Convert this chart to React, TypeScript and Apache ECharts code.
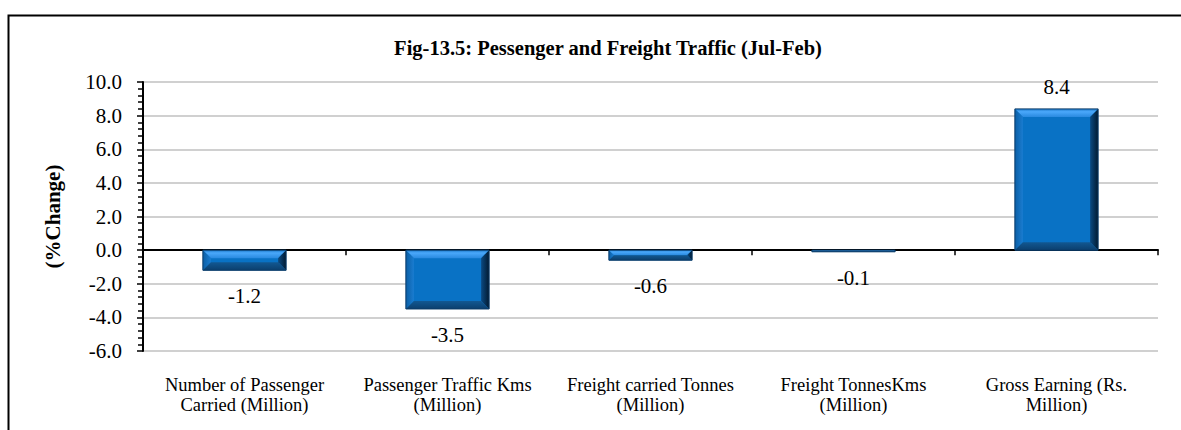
import React, { useEffect, useRef } from 'react';
import * as echarts from 'echarts';

// Year-on-year change of railway traffic indicators
const categories = [
  'Number of Passenger\nCarried (Million)',
  'Passenger Traffic Kms\n(Million)',
  'Freight carried Tonnes\n(Million)',
  'Freight TonnesKms\n(Million)',
  'Gross Earning (Rs.\nMillion)',
];
const changes = [-1.2, -3.5, -0.6, -0.1, 8.4];
const yMin = -6;
const yMax = 10;
const yStep = 2;
const chartTitle = 'Fig-13.5: Pessenger and Freight Traffic (Jul-Feb)';
const yAxisTitle = '(%Change)';

const SERIF = '"Liberation Serif", "Times New Roman", serif';

// Bevelled bar: a flat face framed by four trapezoid edges, lit from the top-left
const renderBevelBar = (params: any, api: any) => {
  const idx = api.value(0);
  const val = api.value(1);
  const end = api.coord([idx, val]);
  const base = api.coord([idx, 0]);
  const bw = api.size([1, 0])[0] * 0.41;
  const x0 = end[0] - bw / 2;
  const x1 = end[0] + bw / 2;
  const y0 = Math.min(end[1], base[1]);
  const y1 = Math.max(end[1], base[1]);
  const h = y1 - y0;
  const b = Math.min(8, h / 2);
  const labelY = val >= 0 ? y0 - 22 : y1 + 26;

  return {
    type: 'group',
    children: [
      { type: 'rect', shape: { x: x0, y: y0, width: bw, height: h }, style: { fill: '#0972c5' } },
      {
        type: 'polygon',
        shape: { points: [[x0, y0], [x1, y0], [x1 - b, y0 + b], [x0 + b, y0 + b]] },
        style: {
          fill: new echarts.graphic.LinearGradient(0, 0, 0, 1, [
            { offset: 0, color: '#1c78c8' },
            { offset: 0.35, color: '#4aa8fb' },
            { offset: 1, color: '#2a8ae0' },
          ]),
        },
      },
      {
        type: 'polygon',
        shape: { points: [[x0, y0], [x0 + b, y0 + b], [x0 + b, y1 - b], [x0, y1]] },
        style: {
          fill: new echarts.graphic.LinearGradient(0, 0, 1, 0, [
            { offset: 0, color: '#0b5fa6' },
            { offset: 1, color: '#1a7cd0' },
          ]),
        },
      },
      {
        type: 'polygon',
        shape: { points: [[x1, y0], [x1, y1], [x1 - b, y1 - b], [x1 - b, y0 + b]] },
        style: {
          fill: new echarts.graphic.LinearGradient(0, 0, 1, 0, [
            { offset: 0, color: '#0b4a82' },
            { offset: 1, color: '#021a30' },
          ]),
        },
      },
      {
        type: 'polygon',
        shape: { points: [[x0, y1], [x1, y1], [x1 - b, y1 - b], [x0 + b, y1 - b]] },
        style: {
          fill: new echarts.graphic.LinearGradient(0, 0, 0, 1, [
            { offset: 0, color: '#125892' },
            { offset: 1, color: '#0b3f6e' },
          ]),
        },
      },
      {
        type: 'rect',
        shape: { x: x0, y: y0, width: bw, height: h },
        style: { fill: 'none', stroke: '#0c3c68', lineWidth: 1 },
      },
      {
        type: 'text',
        style: {
          text: val.toFixed(1),
          x: end[0],
          y: labelY,
          align: 'center',
          verticalAlign: 'middle',
          fontSize: 21,
          fontFamily: SERIF,
          fill: '#000',
        },
      },
    ],
  };
};

export default function App() {
  const ref = useRef<HTMLDivElement>(null);

  useEffect(() => {
    if (!ref.current) return;
    const chart = echarts.init(ref.current, undefined, { renderer: 'svg' });

    chart.setOption({
      animation: false,
      backgroundColor: '#fff',
      grid: { left: 143, right: 23, top: 82, bottom: 79 },
      graphic: [
        {
          type: 'polyline',
          shape: { points: [[8.5, 440], [8.5, 15.5], [1190, 15.5]] },
          style: { stroke: '#000', lineWidth: 2, fill: 'none' },
          silent: true,
        },
        {
          type: 'text',
          style: {
            text: chartTitle,
            x: 608,
            y: 48,
            align: 'center',
            verticalAlign: 'middle',
            fontSize: 20.5,
            fontWeight: 'bold',
            fontFamily: SERIF,
            fill: '#000',
          },
        },
      ],
      xAxis: [
        {
          type: 'category',
          data: categories,
          position: 'bottom',
          axisLine: { onZero: true, lineStyle: { color: '#000', width: 2 } },
          axisTick: { show: true, length: 5, lineStyle: { color: '#000', width: 1.5 } },
          axisLabel: { show: false },
          splitLine: { show: false },
        },
        {
          type: 'category',
          data: categories,
          position: 'bottom',
          axisLine: { show: false, onZero: false },
          axisTick: { show: false },
          splitLine: { show: false },
          axisLabel: {
            interval: 0,
            margin: 24,
            fontSize: 18.5,
            lineHeight: 20,
            fontFamily: SERIF,
            color: '#000',
          },
        },
      ],
      yAxis: {
        type: 'value',
        min: yMin,
        max: yMax,
        interval: yStep,
        name: yAxisTitle,
        nameLocation: 'middle',
        nameGap: 80,
        nameRotate: 90,
        nameTextStyle: { fontSize: 21, fontWeight: 'bold', fontFamily: SERIF, color: '#000' },
        axisLine: { show: true, onZero: false, lineStyle: { color: '#000', width: 2 } },
        axisTick: { show: true, length: 6, lineStyle: { color: '#000', width: 1.5 } },
        minorTick: { show: true, splitNumber: 5, length: 5, lineStyle: { color: '#000', width: 1.5 } },
        splitLine: { show: true, lineStyle: { color: '#c0c0c0', width: 1.5 } },
        axisLabel: {
          margin: 21,
          fontSize: 21,
          fontFamily: SERIF,
          color: '#000',
          formatter: (v: number) => v.toFixed(1),
        },
      },
      series: [
        {
          type: 'custom',
          xAxisIndex: 0,
          renderItem: renderBevelBar,
          data: changes.map((v, i) => [i, v]),
          z: 5,
        },
      ],
    });

    return () => chart.dispose();
  }, []);

  return (
    <div
      ref={ref}
      style={{ position: 'fixed', left: 0, top: 0, width: 1181, height: 430, background: '#fff' }}
    />
  );
}
